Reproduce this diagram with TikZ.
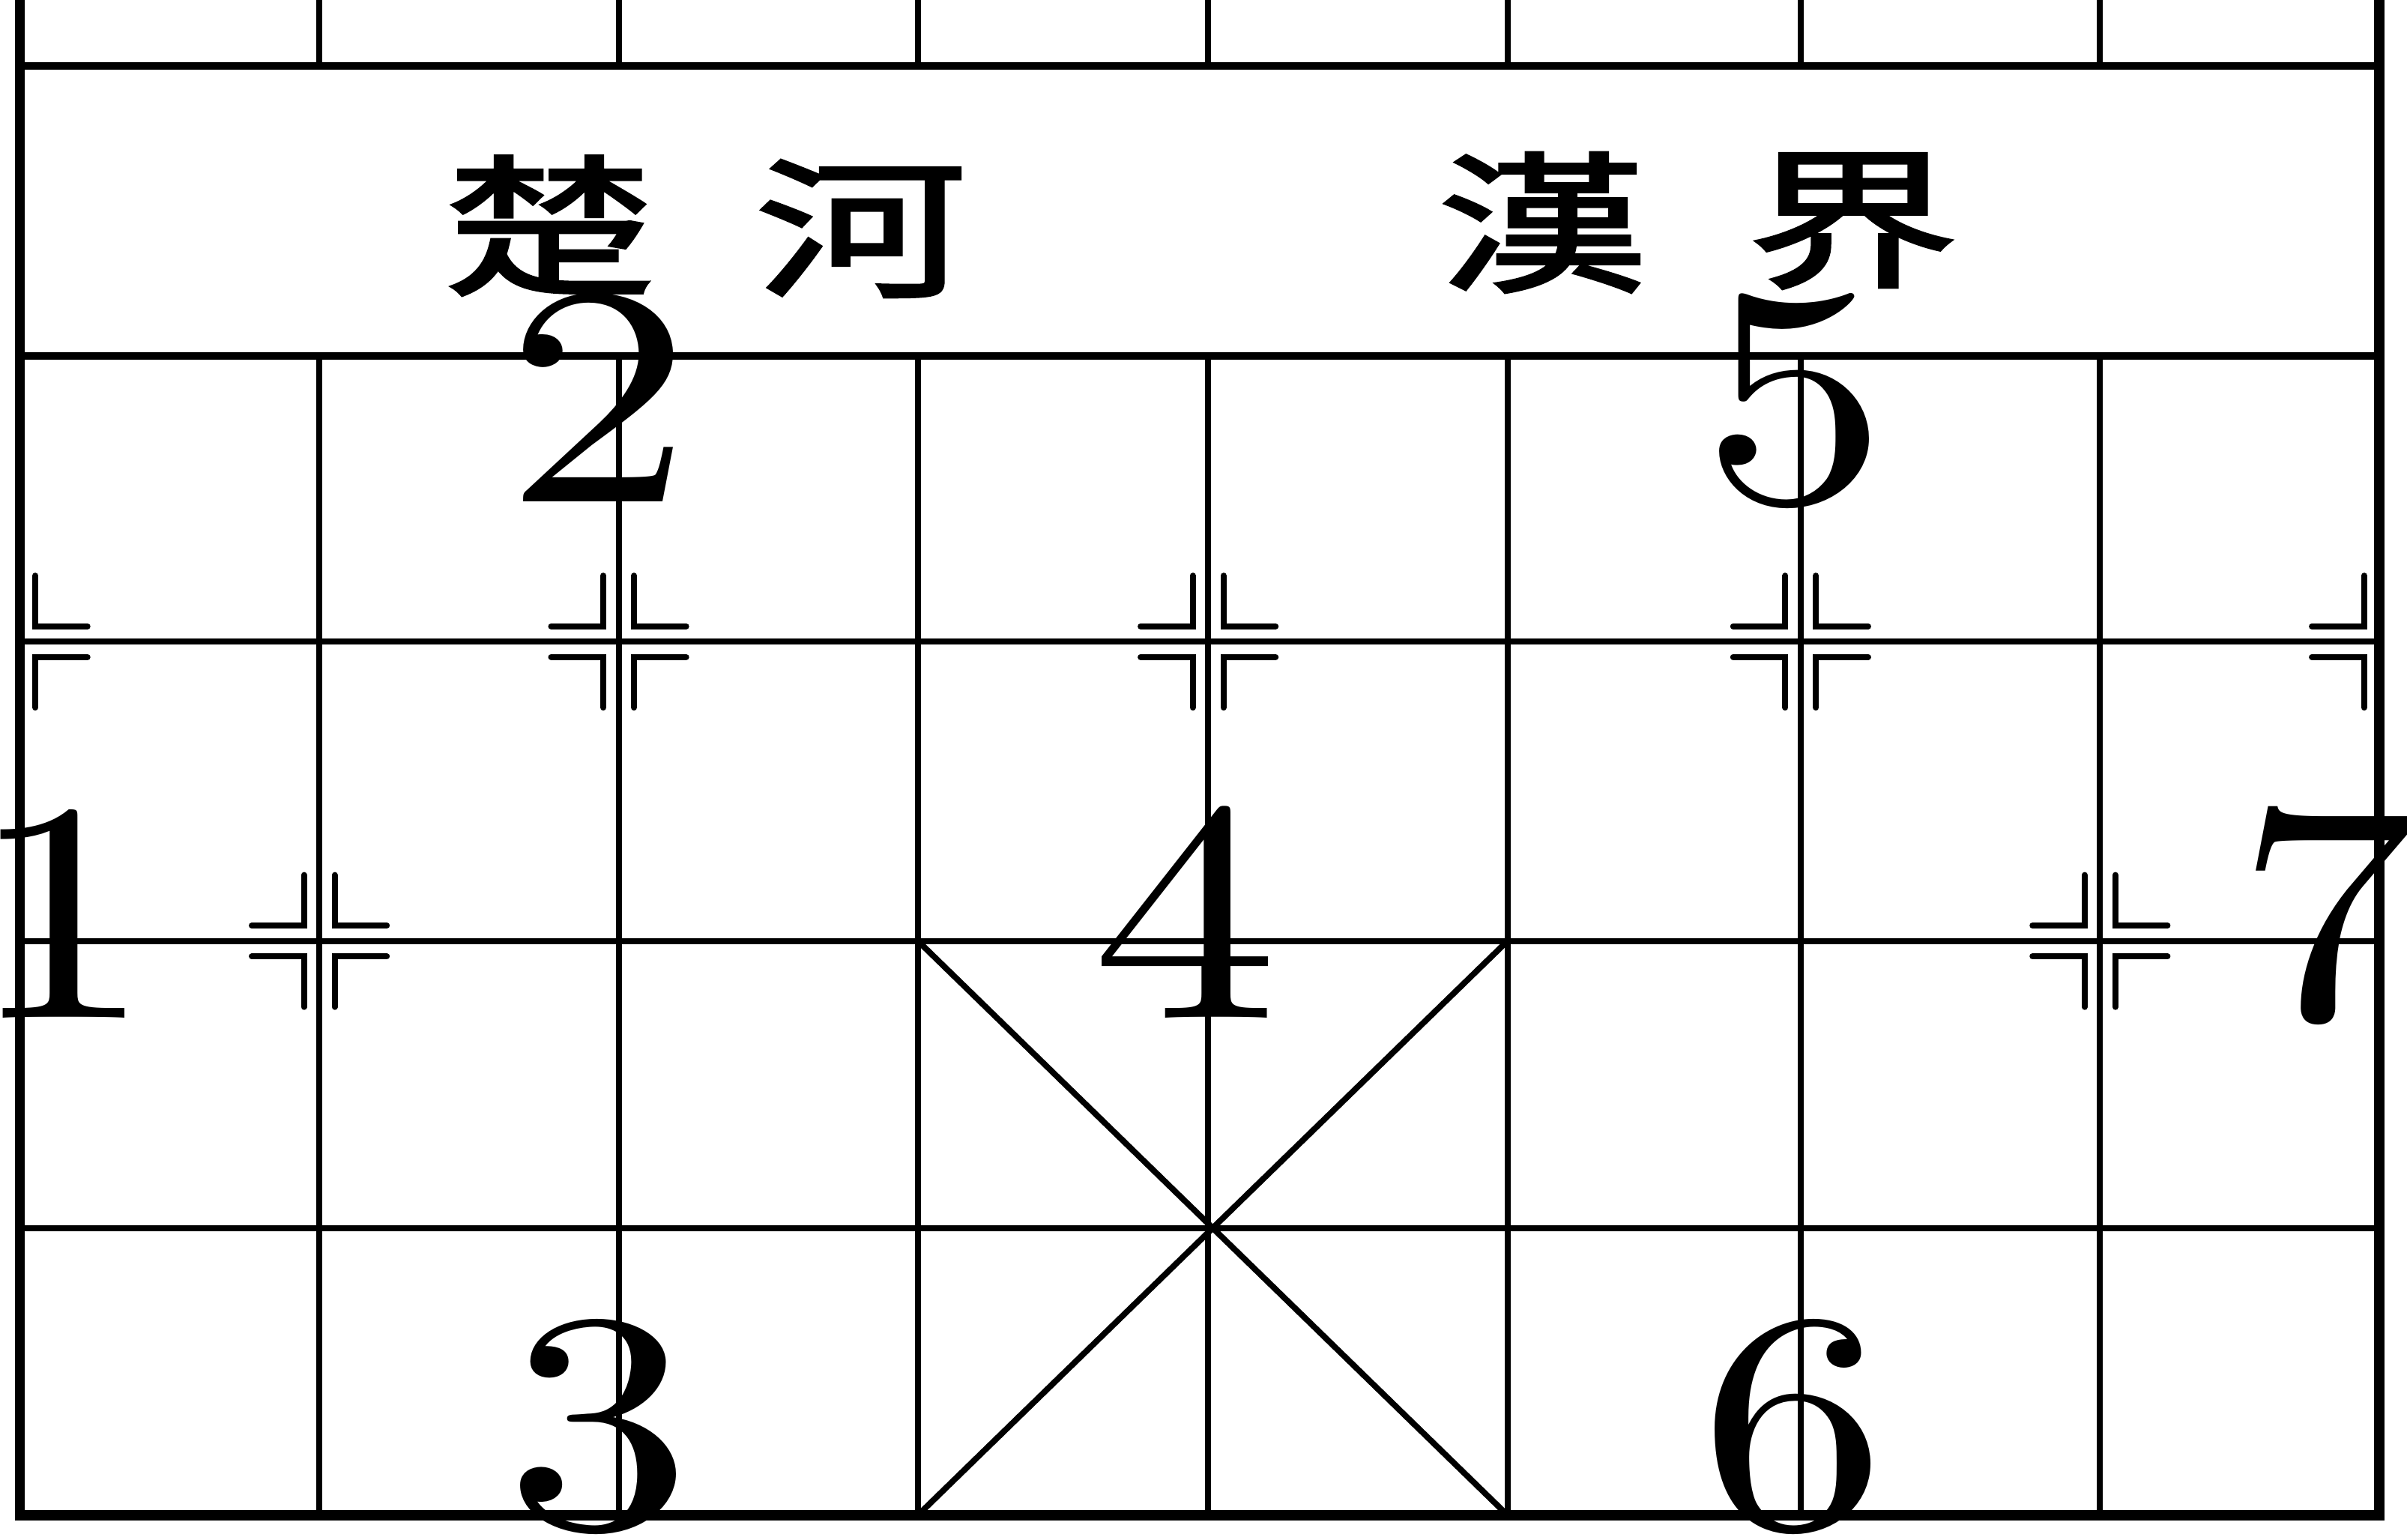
\documentclass[tikz,border=0pt]{standalone}
\usepackage{fontspec}
\newfontfamily\cjk[FakeBold=2]{Noto Sans CJK TC}
\newfontfamily\numfont{lmroman10-regular.otf}
\newcommand{\hstretch}[2]{\scalebox{#1}[1]{#2}}
\newcommand{\cornerL}[4]{%
  \draw[marker] ({#1+(#3)*0.10},{#2+(#4)*0.43}) -- ({#1+(#3)*0.10},{#2+(#4)*0.10}) -- ({#1+(#3)*0.44},{#2+(#4)*0.10});}
\tikzset{
  board/.style={line width=1.1pt},
  riverline/.style={line width=1.4pt},
  frame/.style={line width=1.9pt},
  marker/.style={line width=1.1pt, line cap=round},
  num/.style={anchor=base, inner sep=0pt, font=\numfont\fontsize{58}{58}\selectfont},
  river/.style={inner sep=0pt, font=\cjk\fontsize{28}{28}\selectfont}
}
\begin{document}
\begin{tikzpicture}
  \useasboundingbox (0,0) rectangle (15.68,10.03);
  \foreach \y in {7.71,5.85,3.90,2.03}
    \draw[board] (0.13,\y) -- (15.50,\y);
  \draw[riverline] (0.13,9.60) -- (15.50,9.60);
  \draw[riverline] (0.13,7.71) -- (15.50,7.71);
  \foreach \x in {2.08,4.03,5.98,7.87,9.82,11.73,13.68} {
    \draw[board] (\x,9.60) -- (\x,10.03);
    \draw[board] (\x,0.16) -- (\x,7.71);
  }
  \draw[board] (5.98,3.90) -- (9.82,0.16);
  \draw[board] (9.82,3.90) -- (5.98,0.16);
  \draw[frame] (0.13,10.03) -- (0.13,0.16) -- (15.50,0.16) -- (15.50,10.03);

  \foreach \x/\y in {4.03/5.85,7.87/5.85,11.73/5.85,2.08/3.90,13.68/3.90}
    \foreach \sx/\sy in {1/1,1/-1,-1/1,-1/-1}
      \cornerL{\x}{\y}{\sx}{\sy};
  \cornerL{0.13}{5.85}{1}{1}
  \cornerL{0.13}{5.85}{1}{-1}
  \cornerL{15.50}{5.85}{-1}{1}
  \cornerL{15.50}{5.85}{-1}{-1}

  \node[river] (chu) at (3.58,8.56) {\hstretch{1.4}{楚}};
  \node[river] (he) at (5.61,8.54) {\hstretch{1.4}{河}};
  \node[river] (han) at (10.05,8.58) {\hstretch{1.4}{漢}};
  \node[river] (jie) at (12.07,8.59) {\hstretch{1.4}{界}};

  \node[num] (n2) at (3.90,6.76) {\hstretch{1.2}{2}};
  \node[num] (n5) at (11.69,6.76) {\hstretch{1.2}{5}};
  \node[num] (n1) at (0.40,3.40) {\hstretch{1.2}{1}};
  \node[num] (n4) at (7.72,3.40) {\hstretch{1.2}{4}};
  \node[num] (n7) at (15.17,3.40) {\hstretch{1.2}{7}};
  \node[num] (n3) at (3.90,0.08) {\hstretch{1.2}{3}};
  \node[num] (n6) at (11.68,0.08) {\hstretch{1.2}{6}};
\end{tikzpicture}
\end{document}
